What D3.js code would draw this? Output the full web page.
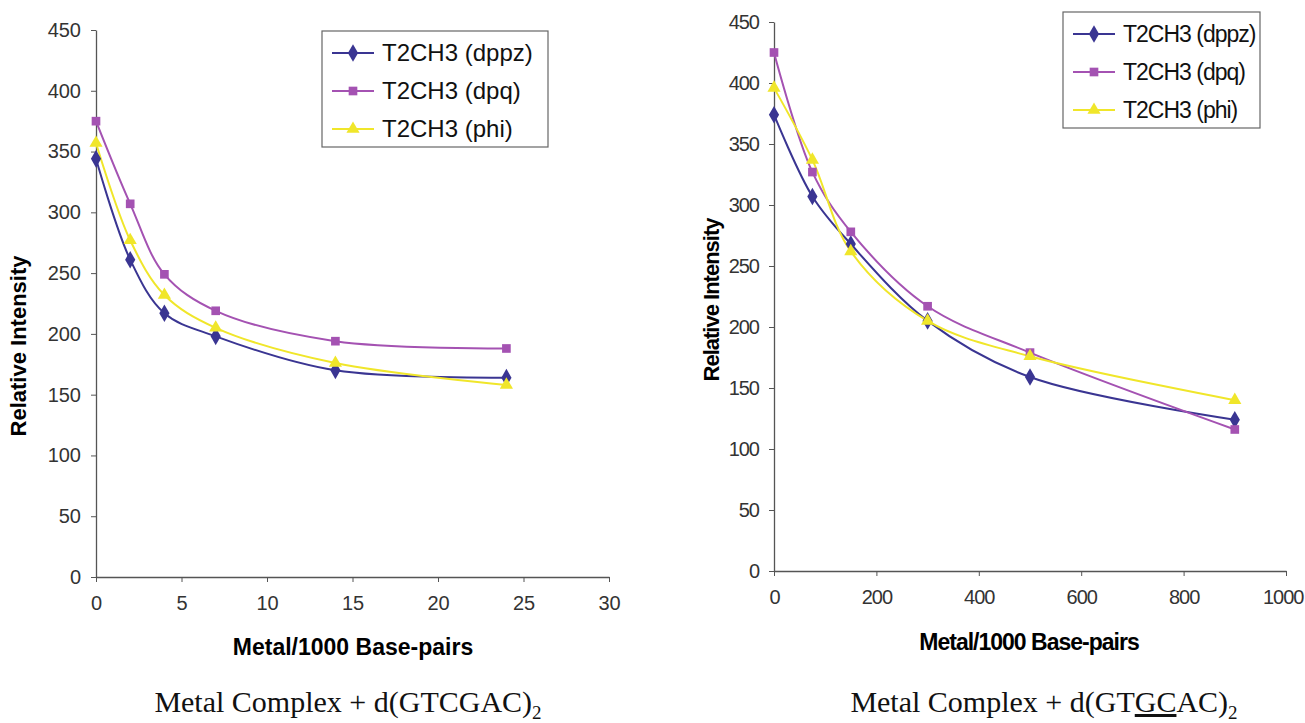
<!DOCTYPE html>
<html>
<head>
<meta charset="utf-8">
<script src="https://cdn.jsdelivr.net/npm/d3@7"></script>
<style>
  body { margin: 0; background: #fff; }
  svg { display: block; }
  .tick text { fill: #333; }
</style>
</head>
<body>
<div id="chart"></div>
<script>
// series names shared by both panels
const seriesNames = ["T2CH3 (dppz)", "T2CH3 (dpq)", "T2CH3 (phi)"];
const colors = ["#3a3592", "#a452b2", "#f0e62a"];
const symbols = [d3.symbolDiamond, d3.symbolSquare, d3.symbolTriangle];

// left panel: d(GTCGAC)2
const xLeft = [0, 2, 4, 7, 14, 24];
const dppzLeft = [344, 261, 217, 198, 170, 164];
const dpqLeft = [375, 307, 249, 219, 194, 188];
const phiLeft = [357, 277, 232, 205, 176, 158];
const xTicksLeft = [0, 5, 10, 15, 20, 25, 30];

// right panel: d(GTGCAC)2
const xRight = [0, 75, 150, 300, 500, 900];
const dppzRight = [374, 307, 268, 205, 159, 124];
const dpqRight = [425, 327, 278, 217, 179, 116];
const phiRight = [396, 337, 262, 205, 176, 140];
const xTicksRight = [0, 200, 400, 600, 800, 1000];

const yTicks = [0, 50, 100, 150, 200, 250, 300, 350, 400, 450];

const width = 1305, height = 723;

const svg = d3.select("#chart")
	.append("svg")
	.attr("width", width)
	.attr("height", height)
	.style("font-family", "'Liberation Sans', Arial, sans-serif");

function drawPanel(cfg){

	const x = d3.scaleLinear().domain(cfg.xDomain).range(cfg.xRange);
	const y = d3.scaleLinear().domain([0, 450]).range(cfg.yRange);
	const g = svg.append("g");

	const xAxis = g.append("g")
		.attr("transform", `translate(0,${cfg.yRange[0]})`)
		.call(d3.axisBottom(x).tickValues(cfg.xTicks).tickFormat(d3.format("d"))
			.tickSize(5).tickPadding(14).tickSizeOuter(0));
	const yAxis = g.append("g")
		.attr("transform", `translate(${cfg.xRange[0]},0)`)
		.call(d3.axisLeft(y).tickValues(yTicks).tickSize(5).tickPadding(10).tickSizeOuter(0));

	[xAxis, yAxis].forEach(a => {
		a.select(".domain").attr("stroke", "#555").attr("stroke-width", 1.3);
		a.selectAll(".tick line").attr("stroke", "#555");
		a.selectAll(".tick text")
			.style("font-size", "20px")
			.attr("letter-spacing", cfg.spacing);
	});

	// keep the last x label inside the page edge
	if (cfg.lastLabelEnd) {
		xAxis.selectAll(".tick:last-of-type text")
			.attr("text-anchor", "end")
			.attr("dx", cfg.lastLabelEnd);
	}

	// smoothed lines like the spreadsheet charts
	const line = d3.line()
		.x((d, i) => x(cfg.xs[i]))
		.y(d => y(d))
		.curve(d3.curveCatmullRom.alpha(0.5));

	cfg.series.forEach((vals, k) => {
		g.append("path")
			.datum(vals)
			.attr("d", line)
			.attr("fill", "none")
			.attr("stroke", colors[k])
			.attr("stroke-width", 2);
	});

	cfg.series.forEach((vals, k) => {
		g.selectAll(".m" + k)
			.data(vals)
			.enter()
			.append("path")
			.attr("class", "m" + k)
			.attr("transform", (d, i) => `translate(${x(cfg.xs[i])},${y(d)})`)
			.attr("d", d3.symbol().type(symbols[k]).size(k === 0 ? 90 : 75))
			.attr("fill", colors[k]);
	});

	// axis titles
	g.append("text")
		.attr("transform", `translate(${cfg.yTitleX},${cfg.yTitleY}) rotate(-90)`)
		.attr("text-anchor", "middle")
		.style("font-size", "22px")
		.style("font-weight", "bold")
		.attr("letter-spacing", cfg.spacing)
		.text("Relative Intensity");

	g.append("text")
		.attr("x", cfg.xTitleX)
		.attr("y", cfg.xTitleY)
		.attr("text-anchor", "middle")
		.style("font-size", "23px")
		.style("font-weight", "bold")
		.attr("letter-spacing", cfg.spacing)
		.text("Metal/1000 Base-pairs");

	// legend
	const lg = g.append("g").attr("transform", `translate(${cfg.legend[0]},${cfg.legend[1]})`);
	lg.append("rect")
		.attr("width", cfg.legend[2])
		.attr("height", cfg.legend[3])
		.attr("fill", "#fff")
		.attr("stroke", "#666")
		.attr("stroke-width", 1.2);

	seriesNames.forEach((name, k) => {
		const ry = 22 + k * 38;
		lg.append("line")
			.attr("x1", 10).attr("x2", 52)
			.attr("y1", ry).attr("y2", ry)
			.attr("stroke", colors[k])
			.attr("stroke-width", 2);
		lg.append("path")
			.attr("transform", `translate(31,${ry})`)
			.attr("d", d3.symbol().type(symbols[k]).size(k === 0 ? 90 : 75))
			.attr("fill", colors[k]);
		lg.append("text")
			.attr("x", 60)
			.attr("y", ry + 8)
			.style("font-size", cfg.legendFont)
			.attr("letter-spacing", cfg.spacing)
			.attr("fill", "#111")
			.text(name);
	});

	// caption below the panel
	const cap = g.append("text")
		.attr("x", cfg.captionX)
		.attr("y", 712)
		.attr("text-anchor", "middle")
		.style("font-family", "'Liberation Serif', 'Times New Roman', serif")
		.style("font-size", "30px")
		.attr("fill", "#111");
	cap.append("tspan").text("Metal Complex + d(" + cfg.seqA);
	if (cfg.seqU) cap.append("tspan").style("text-decoration", "underline").text(cfg.seqU);
	cap.append("tspan").text(cfg.seqB + ")");
	cap.append("tspan").attr("dy", 7).style("font-size", "19px").text("2");
}

drawPanel({
	xDomain: [0, 30], xRange: [96, 609], yRange: [577, 30],
	xs: xLeft, xTicks: xTicksLeft,
	series: [dppzLeft, dpqLeft, phiLeft],
	yTitleX: 26, yTitleY: 346,
	xTitleX: 353, xTitleY: 655,
	legend: [322, 31, 226, 116], legendFont: "24px",
	spacing: 0,
	captionX: 348, seqA: "GTCGAC", seqU: "", seqB: ""
});

drawPanel({
	xDomain: [0, 1000], xRange: [774, 1286], yRange: [571, 22],
	xs: xRight, xTicks: xTicksRight,
	series: [dppzRight, dpqRight, phiRight],
	yTitleX: 719, yTitleY: 300,
	xTitleX: 1029, xTitleY: 650,
	legend: [1063, 12, 197, 116], legendFont: "23px",
	spacing: -1, lastLabelEnd: 17,
	captionX: 1044, seqA: "GT", seqU: "GC", seqB: "AC"
});
</script>
</body>
</html>
